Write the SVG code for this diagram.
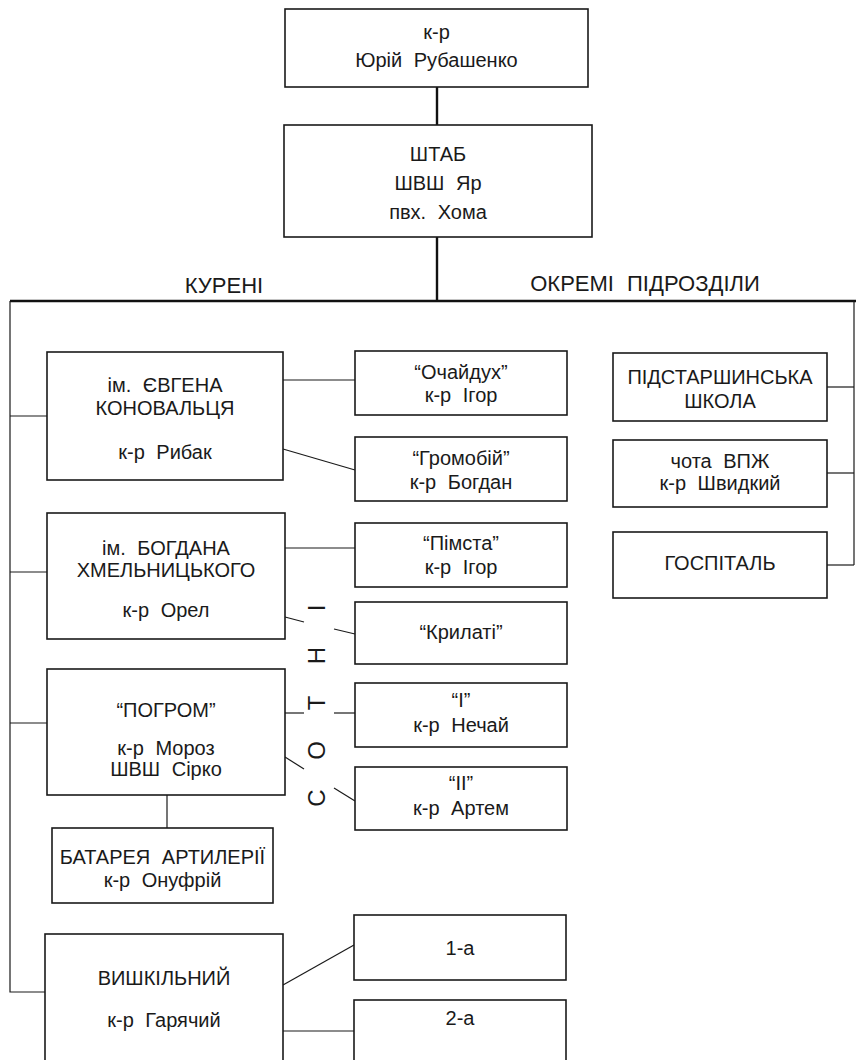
<svg xmlns="http://www.w3.org/2000/svg" width="856" height="1060" viewBox="0 0 856 1060">
<style>
.b{fill:#fff;stroke:#1a1a1a;stroke-width:1.6}
.t{font-family:"Liberation Sans",Arial,sans-serif;font-size:20px;fill:#1a1a1a;text-anchor:middle;word-spacing:6px}
.h{font-family:"Liberation Sans",Arial,sans-serif;font-size:22px;fill:#1a1a1a;text-anchor:middle;word-spacing:7px}
.c{fill:none;stroke:#1a1a1a;stroke-width:1.2}
.k{fill:none;stroke:#111;stroke-width:2.4}
</style>
<rect width="856" height="1060" fill="#fff"/>
<g id="connectors">
<line class="k" x1="437" y1="87" x2="437" y2="125"/>
<line class="k" x1="437" y1="237" x2="437" y2="301"/>
<line class="k" x1="10" y1="301" x2="856" y2="301"/>
<polyline class="c" points="10,301 10,992 45,992"/>
<line class="c" x1="10" y1="416" x2="47" y2="416"/>
<line class="c" x1="10" y1="572" x2="47" y2="572"/>
<line class="c" x1="10" y1="723" x2="47" y2="723"/>
<line class="c" x1="854" y1="301" x2="854" y2="565"/>
<line class="c" x1="827" y1="387" x2="854" y2="387"/>
<line class="c" x1="827" y1="473" x2="854" y2="473"/>
<line class="c" x1="827" y1="565" x2="854" y2="565"/>
<line class="c" x1="283" y1="380" x2="355" y2="380"/>
<line class="c" x1="283" y1="449" x2="355" y2="470"/>
<line class="c" x1="285" y1="548" x2="355" y2="548"/>
<line class="c" x1="285" y1="617" x2="304" y2="622"/>
<line class="c" x1="334" y1="629" x2="355" y2="634"/>
<line class="c" x1="285" y1="713" x2="304" y2="713"/>
<line class="c" x1="334" y1="713" x2="355" y2="713"/>
<line class="c" x1="285" y1="757" x2="304" y2="769"/>
<line class="c" x1="334" y1="788" x2="355" y2="801"/>
<line class="c" x1="167" y1="795" x2="167" y2="828"/>
<line class="c" x1="283" y1="985" x2="354" y2="945"/>
<line class="c" x1="283" y1="1031" x2="354" y2="1031"/>
</g>
<g id="commander"><rect class="b" x="285" y="9" width="303" height="78"/>
<text class="t" x="436.5" y="39">к-р</text><text class="t" x="436.5" y="67">Юрій Рубашенко</text></g>
<g id="staff"><rect class="b" x="284" y="125" width="308" height="112"/>
<text class="t" x="438" y="161">ШТАБ</text><text class="t" x="438" y="190">ШВШ Яр</text><text class="t" x="438" y="219">пвх. Хома</text></g>
<g id="headings"><text class="h" x="224" y="293">КУРЕНІ</text><text class="h" x="645" y="291">ОКРЕМІ ПІДРОЗДІЛИ</text></g>
<g id="kurin1"><rect class="b" x="47" y="352" width="236" height="128"/>
<text class="t" x="165" y="392">ім. ЄВГЕНА</text><text class="t" x="165" y="415">КОНОВАЛЬЦЯ</text><text class="t" x="165" y="459">к-р Рибак</text></g>
<g id="ochaidukh"><rect class="b" x="355" y="351" width="212" height="64"/>
<text class="t" x="461" y="379">“Очайдух”</text><text class="t" x="461" y="402">к-р Ігор</text></g>
<g id="gromobii"><rect class="b" x="355" y="437" width="212" height="64"/>
<text class="t" x="461" y="465">“Громобій”</text><text class="t" x="461" y="489">к-р Богдан</text></g>
<g id="kurin2"><rect class="b" x="47" y="513" width="238" height="126"/>
<text class="t" x="166" y="555">ім. БОГДАНА</text><text class="t" x="166" y="577">ХМЕЛЬНИЦЬКОГО</text><text class="t" x="166" y="617">к-р Орел</text></g>
<g id="pimsta"><rect class="b" x="355" y="523" width="212" height="64"/>
<text class="t" x="461" y="550">“Пімста”</text><text class="t" x="461" y="574">к-р Ігор</text></g>
<g id="krylati"><rect class="b" x="355" y="602" width="212" height="62"/>
<text class="t" x="461" y="639">“Крилаті”</text></g>
<g id="sotni-label"><text class="h" transform="translate(325,703) rotate(-90)" x="-95 -47.5 0 47.5 95" y="0" style="font-size:24px">СОТНІ</text></g>
<g id="kurin3"><rect class="b" x="47" y="669" width="238" height="126"/>
<text class="t" x="166" y="717">“ПОГРОМ”</text><text class="t" x="166" y="755">к-р Мороз</text><text class="t" x="166" y="776">ШВШ Сірко</text></g>
<g id="sotnia1"><rect class="b" x="355" y="683" width="212" height="64"/>
<text class="t" x="461" y="707">“I”</text><text class="t" x="461" y="732">к-р Нечай</text></g>
<g id="sotnia2"><rect class="b" x="355" y="767" width="212" height="63"/>
<text class="t" x="461" y="790">“II”</text><text class="t" x="461" y="815">к-р Артем</text></g>
<g id="battery"><rect class="b" x="52" y="828" width="221" height="75"/>
<text class="t" x="162.5" y="864">БАТАРЕЯ АРТИЛЕРІЇ</text><text class="t" x="162.5" y="887">к-р Онуфрій</text></g>
<g id="training"><rect class="b" x="45" y="934" width="238" height="140"/>
<text class="t" x="164" y="985">ВИШКІЛЬНИЙ</text><text class="t" x="164" y="1027">к-р Гарячий</text></g>
<g id="first"><rect class="b" x="354" y="915" width="212" height="65"/>
<text class="t" x="460" y="955">1-а</text></g>
<g id="second"><rect class="b" x="354" y="1000" width="212" height="75"/>
<text class="t" x="460" y="1025">2-а</text></g>
<g id="nco-school"><rect class="b" x="613" y="353" width="214" height="68"/>
<text class="t" x="720" y="384">ПІДСТАРШИНСЬКА</text><text class="t" x="720" y="408">ШКОЛА</text></g>
<g id="vpzh"><rect class="b" x="613" y="440" width="214" height="67"/>
<text class="t" x="720" y="468">чота ВПЖ</text><text class="t" x="720" y="490">к-р Швидкий</text></g>
<g id="hospital"><rect class="b" x="613" y="532" width="214" height="66"/>
<text class="t" x="720" y="570">ГОСПІТАЛЬ</text></g>
</svg>
